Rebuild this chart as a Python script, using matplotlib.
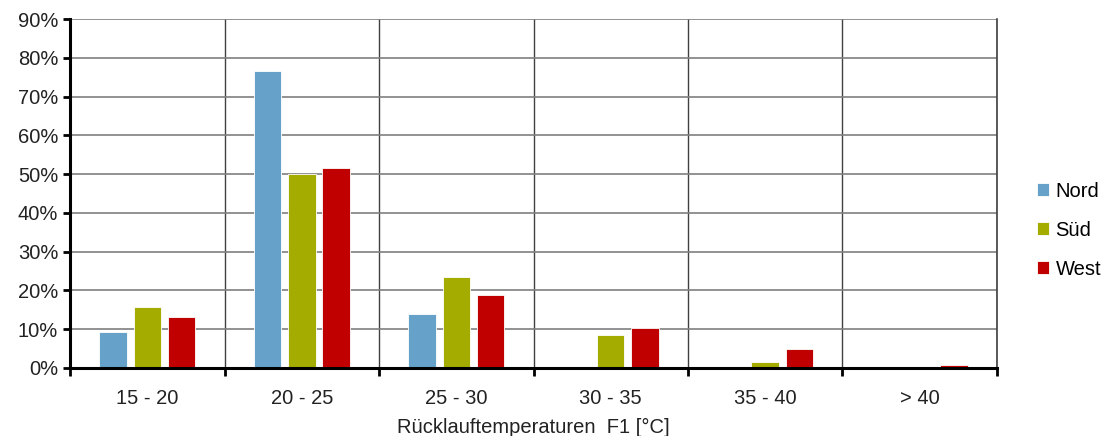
import numpy as np
import matplotlib.pyplot as plt
from matplotlib.ticker import FixedLocator, PercentFormatter

plt.rcParams['font.family'] = ['Liberation Sans', 'DejaVu Sans']

categories = ["15 - 20", "20 - 25", "25 - 30", "30 - 35", "35 - 40", "> 40"]
series_names = ["Nord", "Süd", "West"]
nord = [9.3, 76.7, 13.9, 0.0, 0.0, 0.0]
sued = [15.7, 50.0, 23.4, 8.5, 1.5, 0.0]
west = [13.2, 51.6, 18.8, 10.3, 4.9, 0.8]
colors = ["#65A1C9", "#A5AC00", "#C00000"]


def main():
    fig = plt.figure(figsize=(11.08, 4.36), dpi=100)
    ax = fig.add_axes([0.0632, 0.156, 0.8366, 0.8004])

    x = np.arange(len(categories))
    width = 0.178
    offsets = [-0.223, 0.0, 0.223]
    for vals, name, col, off in zip([nord, sued, west], series_names, colors, offsets):
        ax.bar(x + off, vals, width, color=col, edgecolor="white", linewidth=0.6,
               label=name, zorder=3)

    ax.set_xlim(-0.5, len(categories) - 0.5)
    ax.set_ylim(0, 90)
    ax.set_yticks(np.arange(0, 91, 10))
    ax.yaxis.set_major_formatter(PercentFormatter(decimals=0))
    ax.set_xticks(x)
    ax.set_xticklabels(categories)
    ax.xaxis.set_minor_locator(FixedLocator(np.arange(-0.5, len(categories), 1.0)))

    ax.tick_params(axis="x", which="major", length=0, labelsize=14.5, pad=15, colors="#222222")
    ax.tick_params(axis="x", which="minor", length=6, width=2, direction="out", color="black")
    ax.tick_params(axis="y", length=5, width=2, direction="out", labelsize=14.5, colors="#222222")
    ax.tick_params(axis="y", color="black")

    ax.grid(axis="y", color="#7f7f7f", linewidth=1.2, zorder=1)
    ax.grid(axis="x", which="minor", color="#404040", linewidth=1.0, zorder=1)
    ax.grid(axis="x", which="major", visible=False)
    ax.axvline(len(categories) - 0.5, color="#404040", linewidth=1.2, zorder=2, clip_on=False)

    for side in ["top", "right"]:
        ax.spines[side].set_visible(False)
    ax.spines["left"].set_linewidth(2.2)
    ax.spines["bottom"].set_linewidth(2.2)
    ax.spines["left"].set_zorder(4)
    ax.spines["bottom"].set_zorder(4)

    ax.set_xlabel("Rücklauftemperaturen  F1 [°C]", fontsize=14.5, color="#222222", labelpad=7)

    ax.legend(loc="center left", bbox_to_anchor=(1.024, 0.395), frameon=False,
              fontsize=14.5, handlelength=0.6, handleheight=0.6, handletextpad=0.3,
              labelspacing=1.0)

    fig.savefig("out.png", dpi=100)


if __name__ == "__main__":
    main()
